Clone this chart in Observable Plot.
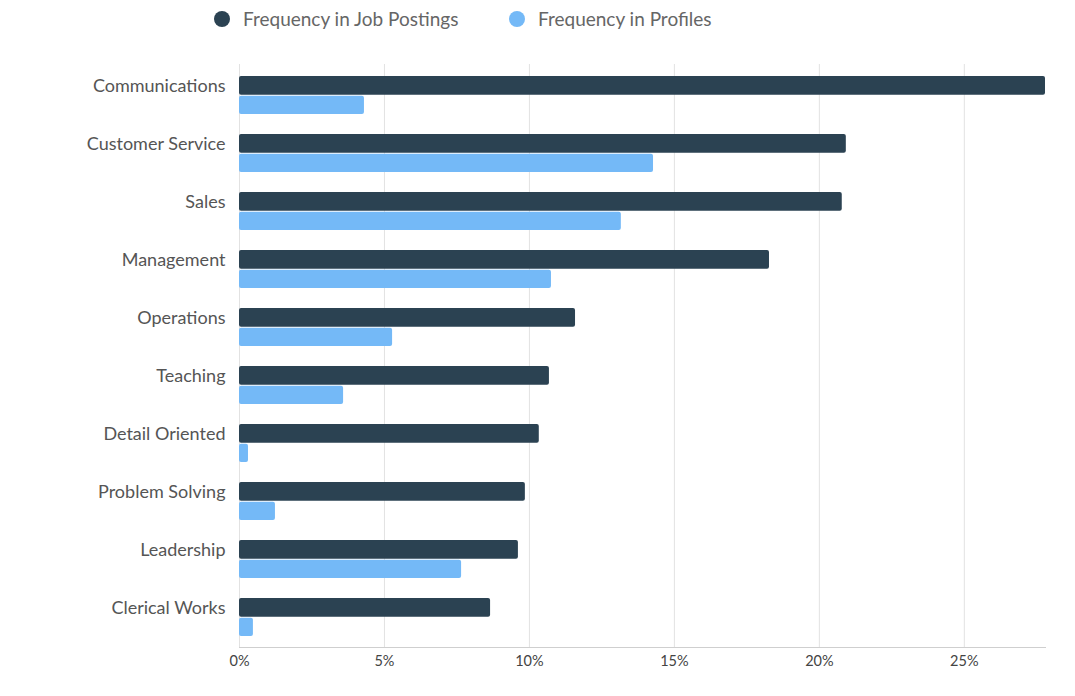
<!DOCTYPE html>
<html>
<head>
<meta charset="utf-8">
<script src="https://cdn.jsdelivr.net/npm/d3@7"></script>
<script src="https://cdn.jsdelivr.net/npm/@observablehq/plot@0.6"></script>
<style>
  body { margin: 0; background: #fff; font-family: Lato, "Open Sans", sans-serif; }
  #legend { height: 40px; position: relative; font-size: 19px; color: #666; }
  .item { position: absolute; top: 7px; display: flex; align-items: center; }
  .dot { width: 16px; height: 16px; border-radius: 50%; margin-right: 13px; }
  #chart svg { display: block; }
</style>
</head>
<body>
<div id="legend"></div>
<div id="chart"></div>
<script>
const categories = ["Communications", "Customer Service", "Sales", "Management", "Operations", "Teaching", "Detail Oriented", "Problem Solving", "Leadership", "Clerical Works"];
const jobPostings = [27.8, 20.93, 20.79, 18.28, 11.59, 10.69, 10.34, 9.86, 9.62, 8.66];
const profiles = [4.31, 14.28, 13.17, 10.76, 5.28, 3.59, 0.31, 1.24, 7.66, 0.48];
const seriesNames = ["Frequency in Job Postings", "Frequency in Profiles"];
const colors = ["#2b4252", "#74b9f7"];
const xTicks = [0, 5, 10, 15, 20, 25];

const legend = document.getElementById("legend");
const legendX = [214, 509];
seriesNames.forEach((n, i) => {
  const d = document.createElement("div");
  d.className = "item";
  d.style.left = legendX[i] + "px";
  d.innerHTML = `<span class="dot" style="background:${colors[i]}"></span><span>${n}</span>`;
  legend.appendChild(d);
});

const jobs = categories.map((c, i) => ({category: c, value: jobPostings[i]}));
const profs = categories.map((c, i) => ({category: c, value: profiles[i]}));

const chart = Plot.plot({
  width: 1075,
  height: 648,
  marginTop: 24,
  marginBottom: 41,
  marginLeft: 239,
  marginRight: 30,
  style: {fontFamily: "Lato, 'Open Sans', sans-serif"},
  x: {domain: [0, 27.8]},
  y: {domain: categories, padding: 0},
  marks: [
    Plot.gridX(xTicks, {stroke: "#e2e2e2", strokeOpacity: 1}),
    Plot.frame({anchor: "bottom", stroke: "#cfcfcf"}),
    Plot.barX(jobs, {x: "value", y: "category", fill: colors[0], insetTop: 10, insetBottom: 29.3, rx: 2}),
    Plot.barX(profs, {x: "value", y: "category", fill: colors[1], insetTop: 29.7, insetBottom: 10, rx: 2}),
    Plot.axisX(xTicks, {tickSize: 0, tickPadding: 8, tickFormat: d => d + "%", fontSize: 14.5, fill: "#444", label: null}),
    Plot.axisY({tickSize: 0, tickPadding: 14, dy: -9.5, fontSize: 18, fill: "#555", label: null})
  ]
});
document.getElementById("chart").appendChild(chart);
</script>
</body>
</html>
